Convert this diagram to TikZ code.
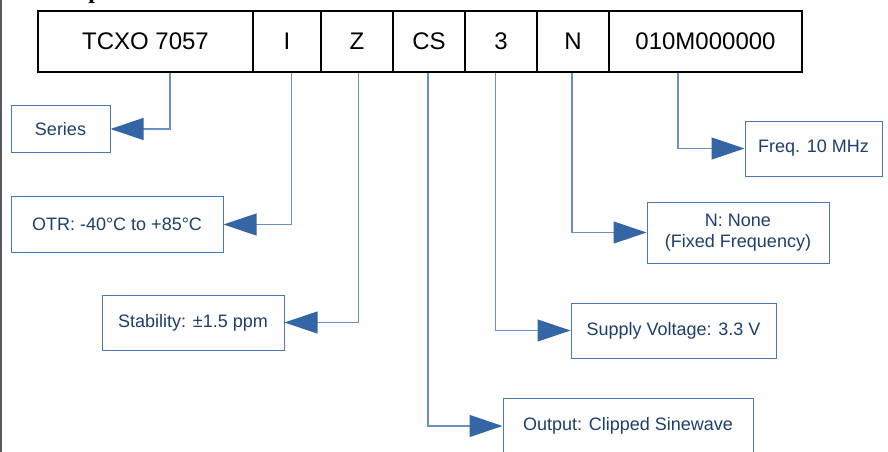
\documentclass[tikz,border=0pt]{standalone}
\usepackage{fontspec}
\setmainfont{Liberation Sans}
\newfontfamily\serifbold{Liberation Serif}
\usetikzlibrary{arrows.meta}
\definecolor{boxline}{HTML}{4A78B4}
\definecolor{connline}{HTML}{6A90C6}
\definecolor{tipfill}{HTML}{3465A4}
\definecolor{labeltext}{HTML}{1E3F6A}
\tikzset{
  codebox/.style={draw=black, line width=1.6pt, inner sep=0pt, minimum height=61pt, font=\fontsize{24}{28}\selectfont, text=black},
  labelbox/.style={draw=boxline, line width=1pt, inner sep=0pt, align=center, font=\fontsize{18}{21}\selectfont, text=labeltext},
  conn/.style={draw=connline, line width=1.2pt, -{Triangle[length=33pt,width=22pt,fill=tipfill,color=tipfill]}}
}
\begin{document}
\begin{tikzpicture}[x=1pt,y=-1pt]
\useasboundingbox (0,0) rectangle (888,452);
\fill[white] (0,0) rectangle (888,452);
\draw[gray!70!black, line width=1.5pt] (0.75,0) -- (0.75,452);
\begin{scope}
\clip (0,0) rectangle (888,452);
\node[font=\serifbold\bfseries\fontsize{24}{28}\selectfont, anchor=base, inner sep=0pt] (frag) at (95,-1.5) {p};
\end{scope}
% code boxes
\node[codebox, minimum width=215pt] (tcxo) at (145.5,41.5) {TCXO 7057};
\node[codebox, minimum width=68pt] (ci) at (287,41.5) {I};
\node[codebox, minimum width=72pt] (cz) at (357,41.5) {Z};
\node[codebox, minimum width=72pt] (ccs) at (429,41.5) {CS};
\node[codebox, minimum width=72pt] (c3) at (501,41.5) {3};
\node[codebox, minimum width=72pt] (cn) at (573,41.5) {N};
\node[codebox, minimum width=193pt] (cf) at (705.5,41.5) {010M000000};
% label boxes
\node[labelbox, minimum width=99pt, minimum height=47pt] (series) at (60.5,129) {Series};
\node[labelbox, minimum width=212pt, minimum height=56pt] (otr) at (117,224.5) {OTR: -40°C to +85°C};
\node[labelbox, minimum width=182pt, minimum height=55pt] (stab) at (193,322.5) {Stability: ±1.5 ppm};
\node[labelbox, minimum width=250pt, minimum height=56pt] (out) at (628,426) {Output: Clipped Sinewave};
\node[labelbox, minimum width=205pt, minimum height=55pt] (supply) at (673.5,330.5) {Supply Voltage: 3.3 V};
\node[labelbox, minimum width=182pt, minimum height=61pt] (none) at (738,232.5) {N: None\\(Fixed Frequency)};
\node[labelbox, minimum width=137pt, minimum height=55pt] (freq) at (813.5,148.5) {Freq. 10 MHz};
% connectors
\draw[conn] ([xshift=24.5pt]tcxo.south) |- (series.east);
\draw[conn] ([xshift=4.5pt]ci.south) |- (otr.east);
\draw[conn] ([xshift=1.5pt]cz.south) |- (stab.east);
\draw[conn] ([xshift=-1pt]ccs.south) |- (out.west);
\draw[conn] ([xshift=-5.5pt]c3.south) |- (supply.west);
\draw[conn] ([xshift=-1pt]cn.south) |- (none.west);
\draw[conn] ([xshift=-27.5pt]cf.south) |- (freq.west);
\end{tikzpicture}
\end{document}
